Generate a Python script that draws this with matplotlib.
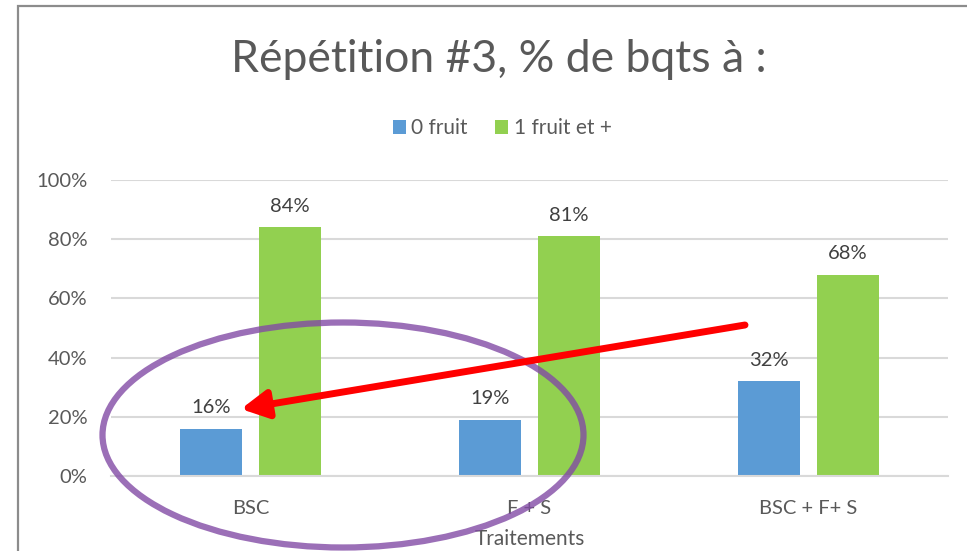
import matplotlib.pyplot as plt
import numpy as np
from matplotlib.patches import Ellipse, FancyArrowPatch, Rectangle

categories = ['BSC', 'F + S', 'BSC + F+ S']
zero_fruit = [16, 19, 32]
one_plus = [84, 81, 68]
series_names = ['0 fruit', '1 fruit et +']
yticks = [0, 20, 40, 60, 80, 100]

W, H = 967, 551
plt.rcParams['font.family'] = ['Lato', 'DejaVu Sans']
txt = '#595959'

fig = plt.figure(figsize=(W / 100, H / 100), dpi=100)
ax = fig.add_axes([111 / W, 1 - 476 / H, 837 / W, 296 / H])

x = np.arange(len(categories))
bw = 0.222
off = 0.1416
b1 = ax.bar(x - off, zero_fruit, bw, color='#5B9BD5', label=series_names[0], zorder=2)
b2 = ax.bar(x + off, one_plus, bw, color='#92D050', label=series_names[1], zorder=2)

for bars in (b1, b2):
    for bar in bars:
        h = bar.get_height()
        ax.text(bar.get_x() + bar.get_width() / 2, h + 4.3, f'{h:.0f}%',
                ha='center', va='bottom', color='#404040', fontsize=14.5)

ax.set_xlim(-0.5, 2.5)
ax.set_ylim(0, 100)
ax.set_yticks(yticks)
ax.set_yticklabels([f'{v}%' for v in yticks])
ax.set_xticks(x)
ax.set_xticklabels(categories)
ax.tick_params(length=0, labelsize=14.5, colors=txt)
ax.tick_params(axis='x', pad=17)
ax.tick_params(axis='y', pad=17)
ax.grid(axis='y', color='#d9d9d9', linewidth=1.5, zorder=0)
ax.set_axisbelow(True)
for s in ['top', 'right', 'left']:
    ax.spines[s].set_visible(False)
ax.spines['bottom'].set_color('#d9d9d9')
ax.spines['bottom'].set_linewidth(1.5)

ax.set_xlabel('Traitements', fontsize=15, color=txt, labelpad=9)

fig.text(499 / W, 1 - 60 / H, 'Répétition #3, % de bqts à :', ha='center', va='center',
         fontsize=32, color=txt)
fig.legend(handles=[b1, b2], loc='center', bbox_to_anchor=(502 / W, 1 - 128 / H),
           ncol=2, frameon=False, fontsize=15, labelcolor=txt, handlelength=0.65,
           handleheight=0.65, handletextpad=0.25, columnspacing=1.3)

# outer chart frame
fig.patches.append(Rectangle((18 / W, -0.1), 1.2, 1 - 6 / H + 0.1, transform=fig.transFigure,
                             fill=False, edgecolor='#8c8c8c', linewidth=1.6))

# annotations: purple ellipse and red arrow
fig.patches.append(Ellipse((343 / W, 1 - 435 / H), 481 / W, 225 / H, transform=fig.transFigure,
                           fill=False, edgecolor=(130 / 255, 75 / 255, 165 / 255), alpha=0.8,
                           linewidth=4.5, zorder=5))
fig.patches.append(FancyArrowPatch((745 / W, 1 - 325 / H), (241 / W, 1 - 409 / H),
                                   transform=fig.transFigure, arrowstyle='-|>,head_length=16,head_width=8.5',
                                   color='#FF0000', linewidth=5, shrinkA=0, shrinkB=0, zorder=6))

fig.savefig('out.png', dpi=100)
